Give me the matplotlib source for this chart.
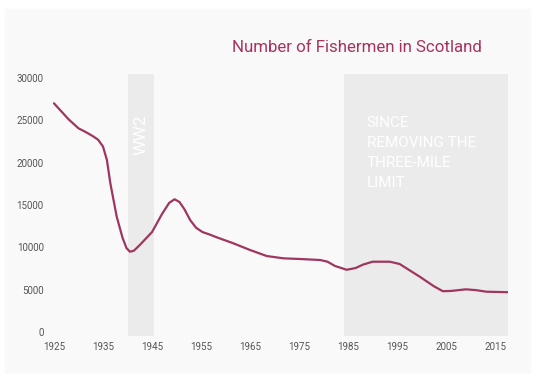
import matplotlib
matplotlib.use("Agg")
import matplotlib.pyplot as plt
from matplotlib.patches import Rectangle

# values
years = [1925, 1928, 1930, 1931.5, 1933, 1934, 1935, 1935.8, 1936.5, 1937.8,
         1939.0, 1939.8, 1940.5, 1941.3, 1942.5, 1945, 1947, 1948.5, 1949.6,
         1950.6, 1951.6, 1952.8, 1954, 1955.3, 1956.8, 1958.2, 1961.6, 1965,
         1968.4, 1971.8, 1975.2, 1979.3, 1980.8, 1982.3, 1984.7, 1986.5, 1988,
         1990, 1993.5, 1995.5, 1999.6, 2002.5, 2004.3, 2006, 2009, 2011,
         2013.2, 2017.5]
fishermen = [27000, 25100, 24050, 23600, 23100, 22700, 21900, 20300, 17550,
             13610, 11100, 9900, 9480, 9600, 10270, 11800, 13900, 15250, 15670,
             15350, 14500, 13200, 12300, 11800, 11500, 11180, 10470, 9680,
             8970, 8700, 8620, 8500, 8300, 7800, 7350, 7550, 7950,
             8300, 8300, 8030, 6530, 5400, 4820, 4850, 5040, 4950,
             4760, 4700]

ww2 = (1940.1, 1945.5)
since_limit = (1984.2, 2017.6)
xticks = [1925, 1935, 1945, 1955, 1965, 1975, 1985, 1995, 2005, 2015]
yticks = [0, 5000, 10000, 15000, 20000, 25000, 30000]

line_color = "#9e3660"
band_color = "#ebebeb"
W, H = 536, 385

fig = plt.figure(figsize=(W / 100, H / 100), dpi=100, facecolor="white")
fig.patches.append(Rectangle((5 / W, 1 - 372 / H), 525 / W, 363 / H,
                             transform=fig.transFigure, color="#f9f9f9", zorder=-5))

ax = fig.add_axes([52 / W, 1 - 336 / H, (508 - 52) / W, (336 - 74) / H])
ax.set_facecolor("none")
ax.set_xlim(1924.6, 2017.6)
ax.set_ylim(-470, 30460)

ax.axvspan(*ww2, color=band_color, lw=0, zorder=1)
ax.axvspan(*since_limit, color=band_color, lw=0, zorder=1)

ax.plot(years, fishermen, color=line_color, lw=1.6, solid_joinstyle="round",
        solid_capstyle="round", zorder=3)

ax.text(sum(ww2) / 2, 23300, "WW2", rotation=90, color="white", fontsize=12.5,
        family="Roboto", ha="center", va="center", zorder=2)
ax.text(1988.8, 25500, "SINCE\nREMOVING THE\nTHREE-MILE\nLIMIT", color="white",
        fontsize=11, family="Roboto", ha="left", va="top",
        linespacing=1.55, zorder=2)

for s in ax.spines.values():
    s.set_visible(False)
ax.set_xticks(xticks)
ax.set_yticks(yticks)
ax.tick_params(length=0, labelsize=7, labelcolor="#555555", pad=4)
ax.tick_params(axis="y", pad=6)
for lab in ax.get_xticklabels() + ax.get_yticklabels():
    lab.set_family("Roboto")

fig.text(232 / W, 1 - 48 / H, "Number of Fishermen in Scotland", color="#a8325e",
         fontsize=12.2, family="Roboto", ha="left", va="center")

fig.savefig("out.png", dpi=100, facecolor="white")
